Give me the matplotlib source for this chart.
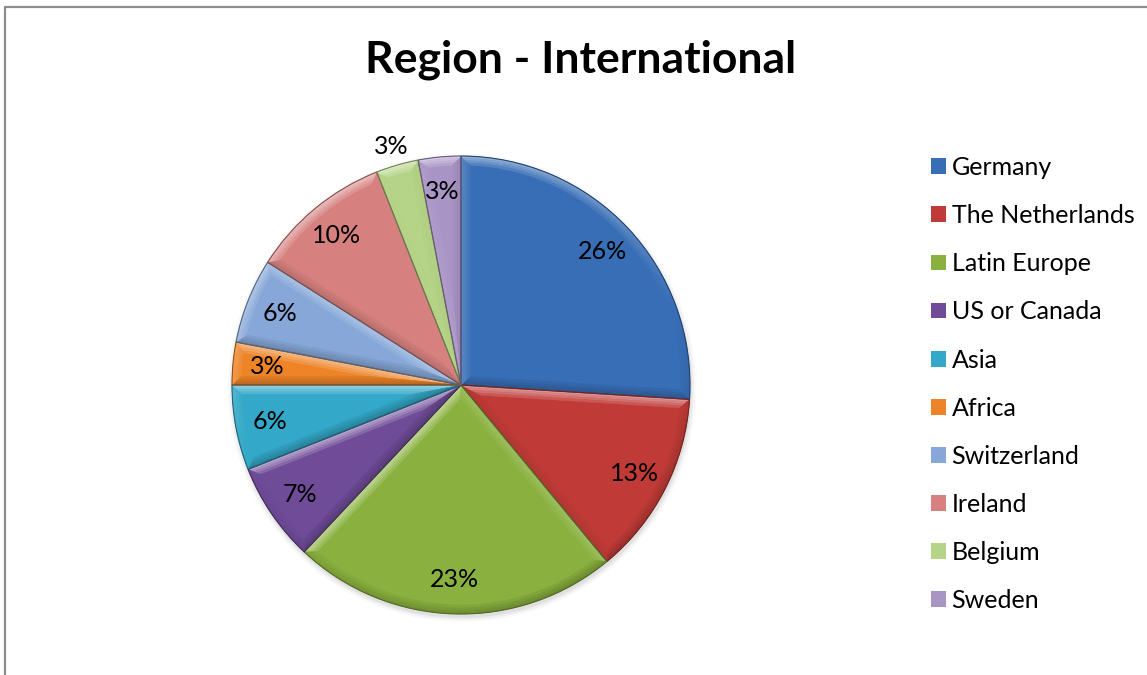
import numpy as np
import matplotlib.pyplot as plt
from matplotlib.patches import Polygon, Wedge, Circle
from matplotlib.lines import Line2D

plt.rcParams['font.family'] = ['Lato', 'DejaVu Sans']

regions = ['Germany', 'The Netherlands', 'Latin Europe', 'US or Canada', 'Asia',
           'Africa', 'Switzerland', 'Ireland', 'Belgium', 'Sweden']
shares = [26, 13, 23, 7, 6, 3, 6, 10, 3, 3]
colors = ['#386eb6', '#c03b37', '#8ab13f', '#6f4b98', '#33a8c8',
          '#ee8428', '#86a7d8', '#d6817f', '#b6d487', '#a994c6']

W, H = 1147, 675
fig = plt.figure(figsize=(W / 100, H / 100), dpi=100)
ax = fig.add_axes([0, 0, 1, 1])

cx, cy, R = 461, 290, 229
bevel = 9
layers = 4

# soft drop shadow under the pie
for k, a in enumerate([0.10, 0.06, 0.035]):
    ax.add_patch(Circle((cx + 1, cy - 3), R + 1 + 2 * k, color='#606060', alpha=a, lw=0, zorder=0))

wedges, texts, autotexts = ax.pie(
    shares, colors=colors, startangle=90, counterclock=False,
    center=(cx, cy), radius=R, autopct=lambda p: f'{p:.0f}%', pctdistance=0.85,
    wedgeprops=dict(linewidth=0), textprops=dict(fontsize=18, color='black'))


def shade(rgb, s):
    rgb = np.asarray(rgb)
    if s >= 0:
        return rgb + (1 - rgb) * 0.5 * s
    return rgb * (1 + 0.22 * s)


light = np.radians(110)


def u(t):
    return np.array([np.cos(t), np.sin(t)])


O = np.array([cx, cy])


def inset(t1, t2, e):
    # apex and arc end angles of a wedge shrunk inward by e pixels
    half = (t2 - t1) / 2
    apex = O + e / np.sin(half) * u(t1 + half)
    phi = np.arcsin(e / (R - e))
    return apex, t1 + phi, t2 - phi


for w in wedges:
    base = w.get_facecolor()[:3]
    t1, t2 = np.radians(w.theta1), np.radians(w.theta2)
    n = max(4, int(np.degrees(t2 - t1) / 2))
    for k in range(layers):
        e0, e1 = bevel * k / layers, bevel * (k + 1) / layers
        strength = (1 - k / layers) ** 0.8
        A0, a0, b0 = inset(t1, t2, e0)
        A1, a1, b1 = inset(t1, t2, e1)
        r0, r1 = R - e0, R - e1
        sides = [([A0, O + r0 * u(a0), O + r1 * u(a1), A1], t1 - np.pi / 2),
                 ([A0, O + r0 * u(b0), O + r1 * u(b1), A1], t2 + np.pi / 2)]
        for quad, nrm in sides:
            c = shade(base, strength * np.cos(nrm - light))
            ax.add_patch(Polygon(quad, closed=True, fc=c, ec=c, lw=0.3, zorder=2))
        to = np.linspace(a0, b0, n + 1)
        ti = np.linspace(a1, b1, n + 1)
        for i in range(n):
            quad = [O + r0 * u(to[i]), O + r0 * u(to[i + 1]),
                    O + r1 * u(ti[i + 1]), O + r1 * u(ti[i])]
            c = shade(base, strength * np.cos((to[i] + to[i + 1]) / 2 - light))
            ax.add_patch(Polygon(quad, closed=True, fc=c, ec=c, lw=0.3, zorder=2))
    ax.add_patch(Wedge((cx, cy), R, w.theta1, w.theta2, fill=False,
                       ec=shade(base, -1.8), lw=0.8, zorder=3))

for t in autotexts:
    t.set_zorder(4)

# Belgium's label sits outside the pie
wb = wedges[8]
mid = np.radians((wb.theta1 + wb.theta2) / 2)
autotexts[8].set_position((cx + 1.085 * R * np.cos(mid), cy + 1.085 * R * np.sin(mid)))

ax.set_xlim(0, W)
ax.set_ylim(0, H)
ax.set_aspect('equal')
ax.axis('off')

fig.text(581 / W, 1 - 60 / H, 'Region - International', ha='center', va='center',
         fontsize=32, fontweight='bold')

ax.legend(wedges, regions, loc='upper left', bbox_to_anchor=(921 / W, 1 - 146 / H),
          frameon=False, fontsize=18, labelspacing=1.005, handlelength=0.6,
          handleheight=0.6, handletextpad=0.22, borderaxespad=0)

# chart area border (left and top edges)
fig.add_artist(Line2D([5 / W, 5 / W, 1], [0, 1 - 7 / H, 1 - 7 / H],
                      color='#8c8c8c', lw=1.6))

fig.savefig('out.png', dpi=100)
